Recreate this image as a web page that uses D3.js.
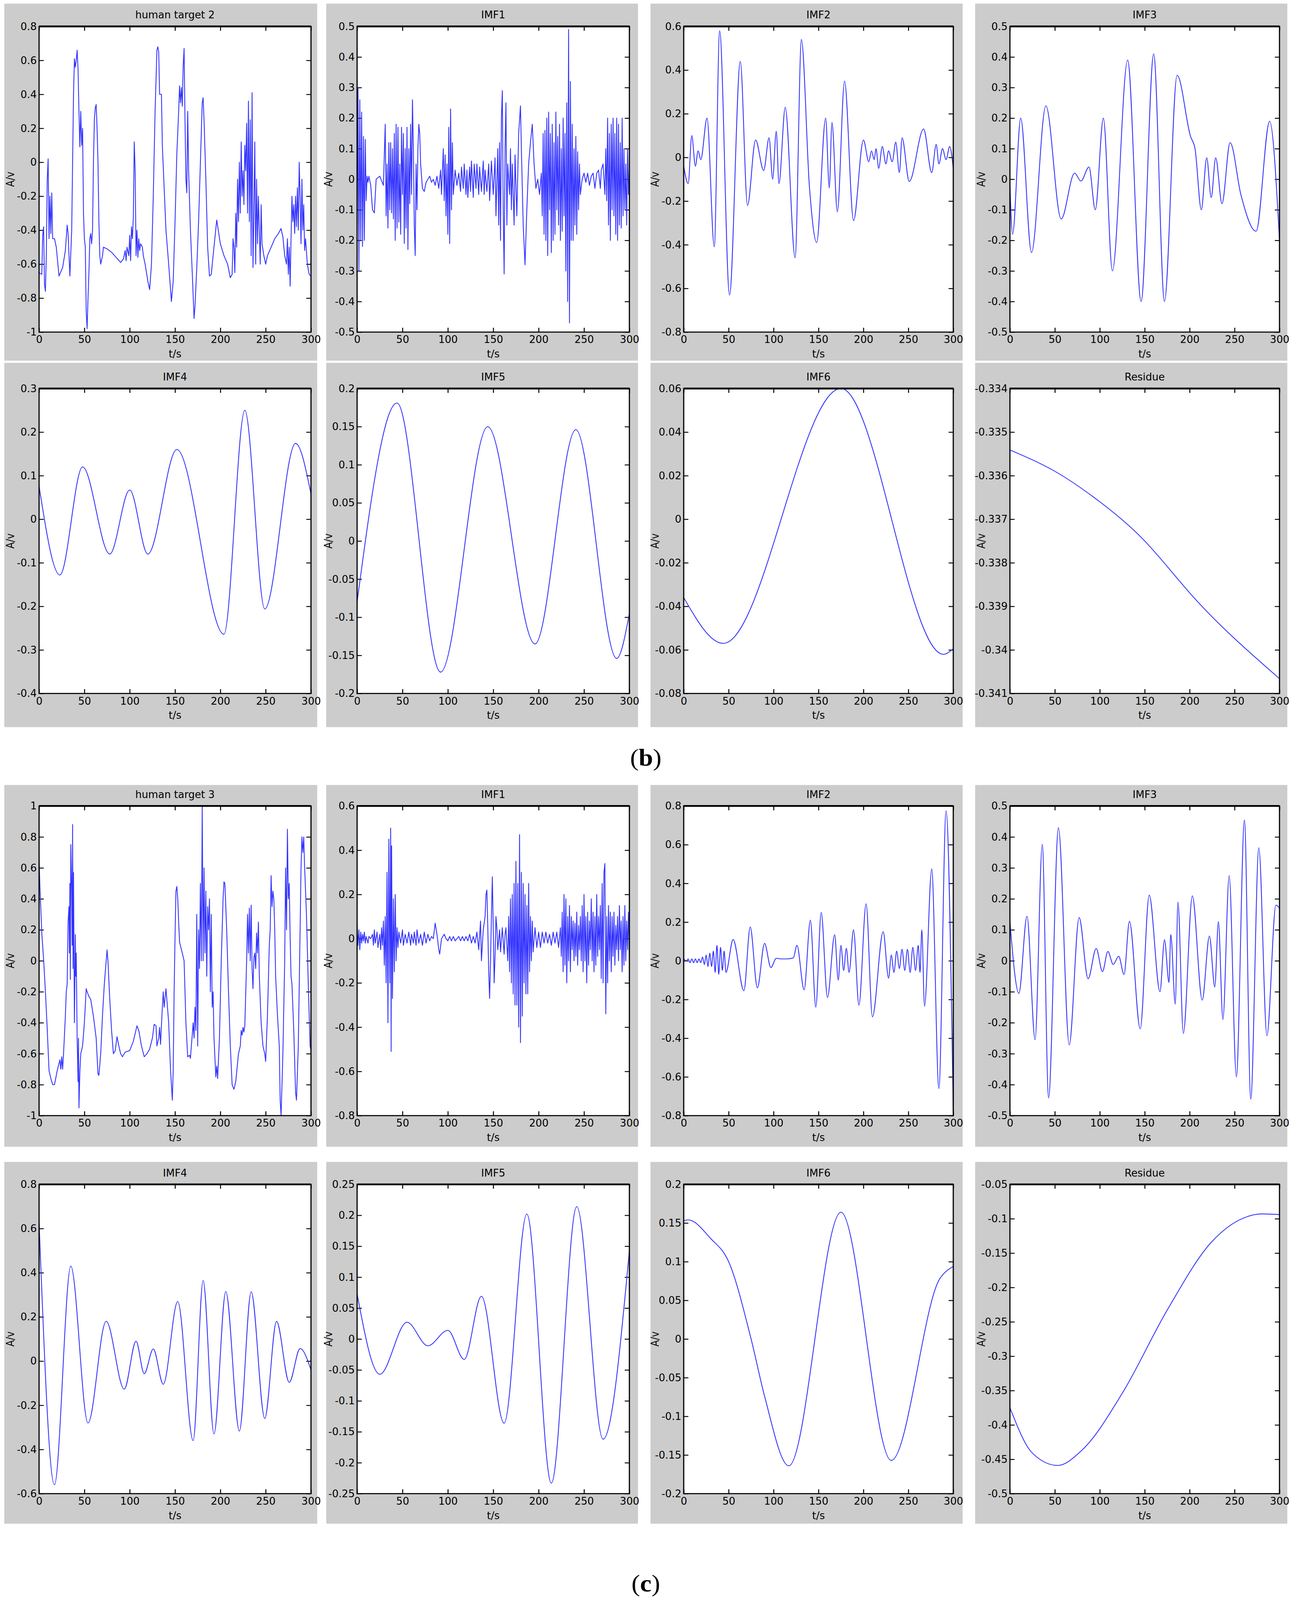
<!DOCTYPE html>
<html>
<head>
<meta charset="utf-8">
<script src="https://d3js.org/d3.v7.min.js"></script>
<style>
html,body{margin:0;padding:0;background:#fff;overflow:hidden;}
#chart{display:block;width:100vw;height:100vh;}
.tick text{font-family:"Liberation Sans Narrow","DejaVu Sans Condensed","Liberation Sans",sans-serif;font-size:29px;fill:#000;}
.lbl{font-family:"Liberation Sans Narrow","DejaVu Sans Condensed","Liberation Sans",sans-serif;font-size:29px;fill:#000;}
</style>
</head>
<body>
<svg id="chart" viewBox="0 0 3307 4423" preserveAspectRatio="none"></svg>
<script>
// ---- data ----
var titles=["human target 2","IMF1","IMF2","IMF3","IMF4","IMF5","IMF6","Residue",
            "human target 3","IMF1","IMF2","IMF3","IMF4","IMF5","IMF6","Residue"];
var yDomains=[[-1,0.8],[-0.5,0.5],[-0.8,0.6],[-0.5,0.5],[-0.4,0.3],[-0.2,0.2],[-0.08,0.06],[-0.341,-0.334],
              [-1,1],[-0.8,0.6],[-0.8,0.8],[-0.5,0.5],[-0.6,0.8],[-0.25,0.25],[-0.2,0.2],[-0.5,-0.05]];
var ySteps=[0.2,0.1,0.2,0.1,0.1,0.05,0.02,0.001, 0.2,0.2,0.2,0.1,0.2,0.05,0.05,0.05];
var xTicks=[0,50,100,150,200,250,300];
// "linear" for raw/IMF1 traces, "mono" for oscillating IMFs, "natural" for slow residues
var curves=["linear","linear","mono","mono","mono","mono","mono","natural",
            "linear","linear","mono","mono","mono","mono","mono","mono"];

var b_raw=[[0,-0.65],[3,-0.66],[4,-0.43],[5,-0.38],[6,-0.72],[7,-0.76],[8,-0.55],[9,-0.1],[10,0.02],[11,-0.45],[12,-0.2],[13,-0.42],[14,-0.18],[15,-0.45],[17,-0.45],[19,-0.5],[22,-0.67],[26,-0.62],[29,-0.52],[31,-0.37],[32,-0.42],[34,-0.67],[36,-0.4],[37,0.0],[38,0.4],[39,0.61],[40,0.56],[41,0.6],[42,0.66],[43,0.55],[44,0.3],[45,0.09],[46,0.3],[47,0.1],[48,0.2],[49,-0.3],[50,-0.45],[51,-0.5],[52,-0.88],[53,-0.98],[54,-0.8],[55,-0.65],[56,-0.45],[57,-0.42],[58,-0.48],[59,-0.4],[60,0.0],[61,0.25],[62,0.32],[63,0.34],[64,0.2],[65,0.0],[66,-0.35],[67,-0.55],[68,-0.6],[70,-0.55],[71,-0.5],[75,-0.51],[80,-0.53],[85,-0.56],[90,-0.59],[93,-0.57],[95,-0.52],[96,-0.58],[97,-0.5],[99,-0.55],[100,-0.43],[101,-0.58],[102,-0.38],[103,-0.45],[104,-0.32],[105,0.12],[106,-0.05],[107,-0.55],[108,-0.4],[109,-0.56],[110,-0.45],[111,-0.52],[112,-0.48],[114,-0.5],[115,-0.55],[117,-0.6],[120,-0.7],[122,-0.75],[124,-0.6],[126,-0.2],[128,0.3],[130,0.66],[131,0.68],[132,0.65],[133,0.4],[135,0.4],[136,0.1],[140,-0.4],[143,-0.6],[146,-0.82],[148,-0.7],[150,-0.35],[152,0.05],[154,0.3],[155,0.45],[156,0.35],[157,0.44],[158,0.33],[159,0.57],[160,0.67],[161,0.25],[162,-0.1],[163,-0.18],[164,0.3],[165,-0.05],[167,-0.4],[169,-0.65],[171,-0.92],[172,-0.85],[174,-0.62],[176,-0.35],[178,0.0],[180,0.35],[181,0.38],[182,0.25],[184,-0.1],[186,-0.5],[188,-0.67],[190,-0.66],[192,-0.55],[196,-0.34],[200,-0.48],[204,-0.55],[208,-0.6],[211,-0.68],[213,-0.66],[214,-0.45],[215,-0.5],[216,-0.65],[217,-0.3],[218,-0.5],[219,-0.1],[220,-0.35],[221,0.0],[222,-0.3],[223,0.12],[224,-0.2],[225,-0.05],[226,-0.25],[227,0.1],[228,-0.05],[229,0.23],[230,-0.3],[231,0.36],[232,-0.35],[233,0.25],[234,-0.55],[235,0.41],[236,-0.62],[237,-0.3],[238,0.12],[239,-0.6],[240,-0.1],[241,-0.48],[242,-0.2],[243,-0.4],[244,-0.6],[245,-0.25],[246,-0.48],[248,-0.55],[250,-0.6],[252,-0.55],[256,-0.5],[260,-0.45],[264,-0.42],[267,-0.39],[269,-0.44],[271,-0.55],[273,-0.6],[274,-0.45],[275,-0.66],[276,-0.5],[277,-0.73],[278,-0.45],[279,-0.2],[280,-0.35],[281,-0.25],[282,-0.42],[283,-0.2],[284,-0.38],[285,-0.15],[286,-0.4],[287,0.0],[288,-0.2],[289,-0.48],[290,-0.1],[291,-0.4],[292,-0.25],[293,-0.52],[294,-0.45],[296,-0.6],[298,-0.66],[300,-0.67]];
var b_imf1=[[0,-0.2],[1,0.3],[2,-0.3],[3,0.26],[4,-0.2],[5,0.22],[6,-0.22],[7,0.14],[8,-0.2],[9,0.13],[10,-0.07],[11,0.01],[12,-0.01],[13,0.01],[15,-0.02],[17,-0.1],[19,-0.11],[21,0.0],[25,0.01],[29,-0.02],[31,0.18],[32,-0.12],[33,0.05],[34,-0.16],[35,0.12],[36,-0.1],[37,0.12],[38,-0.11],[39,0.1],[40,-0.13],[41,0.15],[42,-0.2],[43,0.18],[44,-0.16],[45,0.17],[46,-0.14],[47,0.05],[48,-0.18],[49,0.17],[50,-0.05],[51,0.15],[52,-0.21],[53,0.1],[54,-0.16],[55,0.17],[56,-0.23],[57,0.1],[58,-0.08],[59,0.18],[60,-0.05],[61,0.26],[62,0.1],[63,-0.15],[64,-0.25],[65,0.05],[66,-0.1],[67,0.1],[68,0.18],[69,0.15],[70,0.05],[72,-0.03],[74,-0.04],[76,-0.01],[78,0.0],[80,0.01],[82,-0.01],[84,0.0],[86,-0.02],[88,0.01],[90,-0.03],[92,0.03],[93,-0.05],[95,0.1],[96,-0.07],[97,0.08],[98,-0.12],[99,0.05],[100,-0.18],[101,0.17],[102,-0.21],[103,0.23],[104,-0.1],[105,0.12],[106,-0.05],[108,0.03],[110,-0.02],[112,0.02],[114,-0.04],[115,0.04],[117,-0.03],[118,0.05],[120,-0.05],[121,0.03],[122,-0.06],[124,0.04],[125,-0.04],[126,0.06],[128,-0.06],[129,0.05],[131,-0.03],[132,0.05],[134,-0.05],[135,0.04],[137,-0.04],[139,0.06],[140,-0.05],[141,0.03],[143,-0.04],[145,0.05],[146,-0.07],[148,0.06],[150,-0.05],[152,0.07],[153,-0.12],[155,0.1],[156,-0.15],[157,0.12],[158,-0.2],[159,0.2],[160,0.29],[161,-0.1],[162,-0.31],[163,0.1],[164,0.25],[165,-0.15],[166,0.05],[168,-0.05],[169,0.1],[170,-0.1],[171,0.05],[173,-0.15],[174,0.08],[176,-0.12],[178,0.15],[180,0.24],[181,0.1],[183,-0.15],[185,-0.28],[187,-0.1],[189,0.05],[191,0.12],[193,0.18],[195,0.05],[197,-0.03],[199,0.0],[201,-0.05],[203,0.02],[204,-0.12],[205,0.15],[206,-0.18],[207,0.16],[208,-0.2],[209,0.2],[210,-0.25],[211,0.22],[212,-0.1],[213,0.15],[214,-0.24],[215,0.18],[216,-0.2],[217,0.12],[218,-0.18],[219,0.22],[220,-0.1],[221,0.14],[222,-0.15],[223,0.18],[224,-0.2],[225,0.1],[226,-0.17],[227,0.2],[228,-0.12],[229,0.15],[230,-0.3],[231,0.25],[232,-0.4],[233,0.49],[234,-0.47],[235,0.32],[236,-0.2],[237,0.18],[238,-0.2],[239,0.1],[240,-0.15],[241,0.14],[242,-0.18],[243,0.09],[244,-0.1],[245,0.05],[246,-0.05],[248,0.0],[250,0.02],[252,-0.01],[254,0.02],[256,-0.02],[258,0.01],[260,0.02],[262,-0.03],[264,0.02],[266,0.03],[268,-0.03],[269,0.03],[271,0.05],[273,-0.05],[274,0.1],[275,-0.07],[276,0.2],[277,-0.15],[278,0.15],[279,-0.2],[280,0.18],[281,-0.1],[282,0.2],[283,-0.12],[284,0.15],[285,-0.18],[286,0.2],[287,-0.2],[288,0.18],[289,-0.15],[290,0.12],[291,-0.16],[292,0.2],[293,-0.12],[294,0.1],[295,-0.1],[296,0.05],[297,-0.15],[298,0.1],[299,-0.05],[300,0.03]];
var b_imf2=[[0,-0.04],[5,-0.12],[9,0.1],[13,-0.04],[16,0.03],[19,-0.01],[26,0.18],[34,-0.41],[40,0.58],[51,-0.63],[63,0.44],[71,-0.22],[80,0.08],[89,-0.06],[95,0.09],[99,-0.1],[103,0.12],[106,-0.12],[113,0.23],[124,-0.46],[131,0.54],[140,-0.14],[148,-0.39],[158,0.18],[162,-0.14],[165,0.16],[171,-0.25],[179,0.35],[189,-0.29],[200,0.08],[206,-0.02],[209,0.03],[212,-0.01],[214,0.04],[217,-0.05],[221,0.05],[225,-0.03],[228,0.03],[232,-0.02],[236,0.07],[240,-0.07],[243,0.09],[251,-0.11],[267,0.13],[276,-0.07],[281,0.06],[284,-0.03],[288,0.04],[292,-0.01],[296,0.05],[300,-0.05]];
var b_imf3=[[0,-0.02],[3,-0.18],[12,0.2],[24,-0.24],[40,0.24],[57,-0.13],[72,0.02],[79,-0.006],[88,0.04],[95,-0.1],[104,0.2],[114,-0.3],[131,0.39],[146,-0.4],[160,0.41],[172,-0.4],[186,0.34],[201,0.14],[206,0.1],[213,-0.1],[219,0.07],[224,-0.06],[229,0.07],[236,-0.08],[245,0.12],[257,-0.05],[274,-0.17],[289,0.19],[300,-0.2]];
var b_imf4=[[0,0.076],[23,-0.128],[48,0.12],[78,-0.08],[100,0.067],[120,-0.08],[152,0.16],[204,-0.264],[227,0.25],[249,-0.206],[283,0.174],[300,0.058]];
var b_imf5=[[0,-0.08],[44,0.181],[92,-0.172],[144,0.15],[196,-0.135],[241,0.146],[286,-0.154],[300,-0.095]];
var b_imf6=[[0,-0.036],[44,-0.057],[175,0.06],[289,-0.062],[300,-0.0595]];
var b_res=[[0,-0.33541],[50,-0.3359],[100,-0.3366],[150,-0.3375],[200,-0.33869],[250,-0.33974],[300,-0.34066]];

var c_raw=[[0,0.66],[1,0.47],[3,0.18],[5,0.01],[7,-0.2],[9,-0.44],[11,-0.71],[13,-0.76],[15,-0.8],[17,-0.8],[20,-0.71],[23,-0.64],[24,-0.7],[25,-0.62],[26,-0.7],[27,-0.6],[29,-0.36],[30,-0.2],[31,-0.15],[32,0.25],[33,0.35],[33.5,0.05],[34,0.5],[34.5,-0.12],[35,0.75],[36,0.45],[36.5,0.1],[37,0.88],[37.5,-0.05],[38,0.57],[39,-0.4],[40,0.17],[40.5,-0.1],[41,0.05],[42,-0.5],[43,-0.78],[43.5,-0.5],[44,-0.95],[45,-0.72],[46,-0.6],[48,-0.55],[50,-0.4],[52,-0.18],[53,-0.2],[55,-0.23],[57,-0.25],[60,-0.36],[63,-0.5],[65,-0.73],[66,-0.74],[68,-0.6],[70,-0.35],[72,-0.15],[75,0.07],[76,0.0],[78,-0.25],[80,-0.45],[82,-0.6],[84,-0.58],[86,-0.49],[88,-0.55],[90,-0.6],[92,-0.62],[95,-0.59],[100,-0.58],[104,-0.52],[108,-0.42],[110,-0.45],[113,-0.55],[116,-0.62],[119,-0.6],[122,-0.57],[125,-0.5],[127,-0.41],[129,-0.42],[130,-0.55],[132,-0.5],[133,-0.43],[134,-0.54],[136,-0.3],[137,-0.2],[138,-0.3],[140,-0.18],[141,-0.25],[143,-0.4],[145,-0.7],[147,-0.9],[148,-0.7],[149,-0.2],[150,0.15],[151,0.45],[152,0.48],[153,0.4],[154,0.25],[155,0.12],[158,0.05],[160,0.0],[162,-0.4],[164,-0.62],[166,-0.61],[167,-0.63],[168,-0.55],[169,-0.48],[170,-0.4],[171,-0.5],[172,-0.3],[173,-0.45],[174,0.3],[175,-0.55],[176,0.2],[177,-0.05],[178,0.5],[179,0.0],[180,1.0],[181,0.0],[182,0.6],[183,0.05],[184,0.45],[185,-0.1],[186,0.35],[187,0.2],[188,0.4],[189,-0.2],[190,0.3],[191,-0.3],[192,-0.2],[193,-0.5],[195,-0.75],[196,-0.68],[197,-0.76],[199,-0.5],[201,0.0],[203,0.4],[204,0.51],[205,0.5],[207,0.2],[209,-0.2],[211,-0.55],[213,-0.8],[215,-0.83],[217,-0.78],[220,-0.6],[222,-0.55],[223,-0.45],[224,-0.48],[225,-0.43],[226,-0.46],[227,-0.42],[229,0.0],[230,0.3],[231,0.05],[232,0.34],[233,0.0],[234,0.36],[235,-0.05],[236,-0.18],[237,0.02],[238,0.05],[239,-0.05],[240,0.18],[241,0.05],[242,0.25],[243,-0.1],[245,-0.4],[247,-0.55],[249,-0.6],[250,-0.65],[252,-0.35],[254,0.1],[255,0.2],[256,0.55],[257,0.35],[258,0.45],[259,0.4],[260,0.2],[261,-0.1],[263,-0.35],[265,-0.55],[266,-0.9],[267,-1.0],[268,-0.8],[269,-0.6],[270,-0.3],[271,0.0],[272,0.6],[273,0.2],[274,0.85],[275,0.4],[276,0.5],[277,0.15],[278,-0.1],[279,-0.15],[281,-0.45],[283,-0.85],[284,-0.9],[286,-0.55],[288,0.2],[289,0.6],[290,0.8],[291,0.7],[292,0.8],[293,0.6],[294,0.45],[295,0.3],[297,-0.15],[298,-0.35],[299,-0.55],[300,-0.58]];
var c_imf1=[[0,0.06],[1,-0.03],[2,0.04],[3,-0.05],[4,0.03],[5,-0.02],[6,0.02],[7,-0.01],[8,0.03],[9,-0.02],[10,0.01],[12,-0.02],[13,0.01],[15,0.0],[17,0.02],[18,-0.03],[19,0.04],[20,-0.02],[22,0.03],[23,-0.04],[25,0.02],[26,-0.05],[27,0.05],[28,-0.03],[29,0.08],[30,-0.12],[31,0.1],[32,-0.2],[33,0.3],[34,-0.38],[35,0.45],[36,-0.2],[37,0.5],[37.5,-0.51],[38,0.42],[39,-0.27],[40,0.18],[41,-0.15],[42,0.2],[43,-0.1],[44,0.05],[45,-0.04],[46,0.03],[48,-0.02],[50,0.04],[51,-0.03],[53,0.02],[55,-0.02],[57,0.03],[59,-0.03],[60,0.02],[62,-0.02],[63,0.03],[65,-0.03],[66,0.04],[68,-0.02],[70,0.02],[72,-0.03],[74,0.03],[76,-0.02],[78,0.02],[80,-0.01],[82,0.01],[84,0.0],[86,0.07],[88,0.02],[90,-0.05],[91,-0.07],[93,0.0],[96,0.02],[98,0.0],[100,-0.01],[102,0.01],[104,-0.01],[106,0.01],[108,-0.01],[110,0.0],[112,0.01],[114,-0.01],[116,0.01],[118,-0.01],[120,0.01],[122,-0.01],[124,0.02],[126,-0.02],[128,0.01],[130,-0.02],[132,0.03],[134,-0.05],[136,0.08],[137,-0.1],[139,0.04],[141,0.1],[142,0.2],[143,0.22],[144,0.05],[145,-0.15],[146,-0.27],[147,-0.1],[148,0.1],[149,0.28],[150,0.05],[151,-0.2],[152,-0.08],[153,0.1],[154,0.05],[155,-0.05],[157,0.04],[158,-0.06],[160,0.05],[162,-0.07],[163,0.02],[164,0.05],[166,-0.1],[167,0.1],[168,-0.15],[169,0.18],[170,-0.2],[171,0.2],[172,-0.25],[173,0.25],[174,-0.3],[175,0.35],[176,-0.3],[177,0.25],[178,-0.4],[179,0.47],[180,-0.47],[181,0.3],[182,-0.35],[183,0.25],[184,-0.2],[185,0.2],[186,-0.25],[187,0.15],[188,-0.25],[189,0.25],[190,-0.15],[191,0.1],[192,-0.1],[193,0.08],[194,-0.06],[196,0.05],[198,-0.04],[200,0.03],[202,-0.04],[204,0.03],[206,-0.02],[208,0.03],[210,-0.02],[212,0.02],[214,-0.03],[216,0.03],[218,-0.02],[220,0.03],[222,-0.04],[224,0.05],[225,-0.08],[226,0.12],[227,-0.15],[228,0.2],[229,-0.12],[230,0.18],[231,-0.2],[232,0.1],[233,-0.1],[234,0.15],[235,-0.15],[236,0.1],[237,-0.05],[238,0.08],[239,-0.1],[240,0.07],[241,-0.08],[242,0.12],[243,-0.12],[244,0.06],[245,-0.05],[246,0.1],[247,-0.1],[248,0.15],[249,-0.15],[250,0.2],[251,-0.1],[252,0.1],[253,-0.2],[254,0.12],[255,-0.12],[256,0.08],[257,-0.05],[258,0.18],[259,-0.1],[260,0.12],[261,-0.15],[262,0.1],[263,-0.12],[264,0.2],[265,-0.08],[266,0.1],[267,-0.05],[268,0.15],[269,-0.18],[270,0.25],[271,-0.2],[272,0.3],[273,0.34],[274,-0.34],[275,0.1],[276,-0.2],[277,0.15],[278,-0.1],[279,0.12],[280,-0.15],[281,0.1],[282,-0.08],[283,0.12],[284,-0.12],[285,0.06],[286,-0.05],[287,0.1],[288,-0.1],[289,0.15],[290,-0.05],[291,0.08],[292,-0.15],[293,0.1],[294,-0.12],[295,0.15],[296,-0.1],[297,0.08],[298,-0.05],[299,0.12],[300,-0.08]];
var c_imf2=[[0,0.01],[3,0.0],[5,0.01],[7,-0.01],[9,0.01],[11,-0.01],[13,0.01],[15,-0.01],[17,0.01],[19,-0.01],[21,0.02],[23,-0.02],[25,0.03],[27,-0.03],[29,0.04],[31,-0.03],[33,0.05],[35,-0.06],[37,0.08],[39,-0.07],[41,0.07],[43,-0.05],[45,0.05],[47,-0.06],[55,0.11],[67,-0.155],[74,0.175],[82,-0.14],[90,0.09],[97,-0.035],[103,0.013],[108,0.01],[115,0.01],[122,0.015],[126,0.08],[134,-0.15],[141,0.21],[147,-0.24],[153,0.25],[160,-0.19],[168,0.135],[172,-0.1],[175,0.08],[178,-0.05],[181,0.065],[184,-0.06],[189,0.16],[195,-0.23],[203,0.295],[210,-0.29],[222,0.15],[228,-0.09],[231,0.03],[234,-0.06],[237,0.05],[240,-0.04],[243,0.06],[246,-0.05],[249,0.06],[252,-0.06],[255,0.07],[258,-0.05],[261,0.08],[263,-0.06],[265,0.16],[268,-0.235],[276,0.475],[284,-0.66],[292,0.775],[300,-0.785]];
var c_imf3=[[0,0.126],[10,-0.105],[19,0.144],[28,-0.255],[36,0.376],[43,-0.443],[54,0.43],[66,-0.272],[77,0.14],[87,-0.058],[96,0.04],[103,-0.035],[109,0.03],[115,-0.012],[121,0.015],[127,-0.044],[133,0.128],[145,-0.22],[155,0.212],[167,-0.1],[172,0.068],[177,-0.07],[179,0.085],[184,-0.14],[187,0.19],[193,-0.235],[203,0.21],[214,-0.127],[222,0.08],[228,-0.085],[232,0.127],[237,-0.19],[244,0.275],[252,-0.375],[261,0.455],[268,-0.447],[277,0.365],[286,-0.242],[296,0.18],[300,0.17]];
var c_imf4=[[0,0.63],[17,-0.56],[35,0.43],[54,-0.28],[74,0.18],[94,-0.127],[107,0.09],[116,-0.057],[126,0.055],[137,-0.105],[153,0.27],[170,-0.36],[181,0.365],[193,-0.33],[206,0.315],[221,-0.317],[234,0.314],[249,-0.26],[262,0.18],[276,-0.096],[288,0.057],[300,-0.04]];
var c_imf5=[[0,0.073],[25,-0.057],[55,0.027],[78,-0.011],[100,0.014],[118,-0.033],[137,0.069],[162,-0.136],[187,0.202],[214,-0.233],[242,0.214],[271,-0.162],[300,0.143]];
var c_imf6=[[0,0.153],[5,0.154],[30,0.13],[50,0.1],[75,0.0],[90,-0.074],[117,-0.164],[175,0.164],[231,-0.157],[285,0.078],[300,0.094]];
var c_res=[[0,-0.375],[25,-0.441],[53,-0.459],[80,-0.437],[125,-0.354],[175,-0.233],[225,-0.133],[260,-0.099],[280,-0.093],[300,-0.094]];

var series=[b_raw,b_imf1,b_imf2,b_imf3,b_imf4,b_imf5,b_imf6,b_res,
            c_raw,c_imf1,c_imf2,c_imf3,c_imf4,c_imf5,c_imf6,c_res];
var groupLabels=["b","c"];

// ---- layout ----
var rowsY=[[10,73,918,997],[1003,1074,1917,2010],[2170,2228,3084,3170],[3212,3274,4129,4212]];
var colsX=[[11,812,100,796],[835,1633,914,1611],[1665,2464,1750,2440],[2496,3295,2585,3275]];
var groupLabelY=[2094,4377];
var curveOf={linear:d3.curveLinear,mono:d3.curveMonotoneX,natural:d3.curveNatural};

var svg=d3.select("#chart");

series.forEach(function(data,i){
	var r=rowsY[Math.floor(i/4)], c=colsX[i%4];
	var g=svg.append("g");
	g.append("rect").attr("x",c[0]).attr("y",r[0]).attr("width",c[1]-c[0]).attr("height",r[3]-r[0]).attr("fill","#cccccc");
	g.append("rect").attr("x",c[2]).attr("y",r[1]).attr("width",c[3]-c[2]).attr("height",r[2]-r[1]).attr("fill","#fff");

	var x=d3.scaleLinear().domain([0,300]).range([c[2],c[3]]);
	var y=d3.scaleLinear().domain(yDomains[i]).range([r[2],r[1]]);
	var st=ySteps[i], d=yDomains[i];
	var yt=d3.range(Math.round((d[1]-d[0])/st)+1).map(function(k){return +(d[0]+k*st).toFixed(4);});
	var fmt=function(v){return String(+v.toFixed(4));};

	g.append("g").attr("transform","translate("+c[2]+",0)")
	  .call(d3.axisLeft(y).tickValues(yt).tickSize(-12).tickPadding(6).tickFormat(fmt));
	g.append("g").attr("transform","translate("+c[3]+",0)")
	  .call(d3.axisRight(y).tickValues(yt).tickSize(-12).tickFormat(""));
	g.append("g").attr("transform","translate(0,"+r[2]+")")
	  .call(d3.axisBottom(x).tickValues(xTicks).tickSize(-12).tickPadding(10).tickFormat(d3.format("d")));
	g.append("g").attr("transform","translate(0,"+r[1]+")")
	  .call(d3.axisTop(x).tickValues(xTicks).tickSize(-12).tickFormat(""));
	g.selectAll(".domain").remove();
	g.selectAll(".tick line").attr("stroke","#000").attr("stroke-width",2.5);

	var clip="clip"+i;
	g.append("clipPath").attr("id",clip).append("rect")
	  .attr("x",c[2]).attr("y",r[1]).attr("width",c[3]-c[2]).attr("height",r[2]-r[1]);
	var line=d3.line().x(function(p){return x(p[0]);}).y(function(p){return y(p[1]);})
	  .curve(curveOf[curves[i]]);
	g.append("path").datum(data).attr("d",line).attr("clip-path","url(#"+clip+")")
	  .attr("fill","none").attr("stroke","#3333ff").attr("stroke-width",2.2).attr("stroke-linejoin","round");

	g.append("rect").attr("x",c[2]).attr("y",r[1]).attr("width",c[3]-c[2]).attr("height",r[2]-r[1])
	  .attr("fill","none").attr("stroke","#000").attr("stroke-width",3);
	g.append("line").attr("x1",c[2]).attr("x2",c[3]).attr("y1",r[1]).attr("y2",r[1]).attr("stroke","#000").attr("stroke-width",5);

	g.append("text").attr("class","lbl").attr("x",(c[2]+c[3])/2).attr("y",r[1]-22).attr("text-anchor","middle").text(titles[i]);
	g.append("text").attr("class","lbl").attr("x",(c[2]+c[3])/2).attr("y",r[2]+70).attr("text-anchor","middle").text("t/s");
	g.append("text").attr("class","lbl").attr("text-anchor","middle")
	  .attr("transform","translate("+(c[2]-64)+","+((r[1]+r[2])/2)+") rotate(-90)").text("A/v");
});

svg.selectAll("text.grp").data(groupLabels).enter().append("text").attr("class","grp")
  .attr("x",1653).attr("y",function(d,k){return groupLabelY[k]+22;})
  .attr("text-anchor","middle").attr("font-family","'Liberation Serif','Times New Roman',serif")
  .attr("font-size",66)
  .each(function(d){
	var t=d3.select(this);
	t.append("tspan").text("(");
	t.append("tspan").attr("font-weight","bold").text(d);
	t.append("tspan").text(")");
  });
</script>
</body>
</html>
